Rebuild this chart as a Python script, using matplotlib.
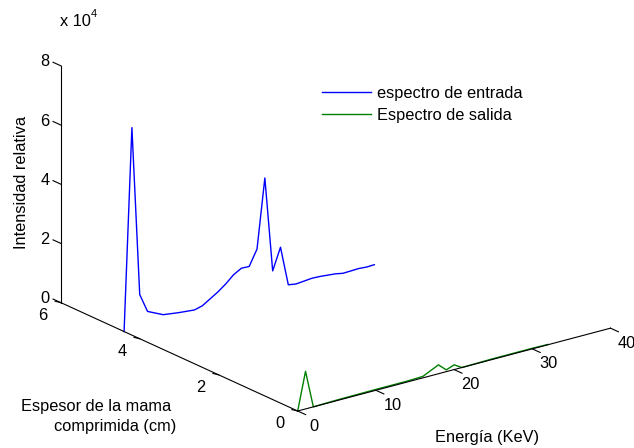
import numpy as np
import matplotlib
matplotlib.use('Agg')
import matplotlib.pyplot as plt
from matplotlib.lines import Line2D
from mpl_toolkits.mplot3d import proj3d

plt.rcParams['font.family'] = ['Liberation Sans', 'DejaVu Sans']

# ---------------- data ----------------
# input spectrum (blue), drawn at thickness 4.4 cm
energia_entrada = [0, 1, 2, 3, 5, 7, 9, 10, 12, 13, 14, 15, 16, 17, 18, 19, 20,
                   21, 22, 24, 25, 27, 28, 30, 31, 32]
intensidad_entrada = [0, 6.82, 1.11, 0.47, 0.22, 0.15, 0.10, 0.17, 0.50, 0.70,
                      0.94, 1.09, 1.08, 1.60, 3.93, 0.72, 1.45, 0.11, 0.07,
                      0.12, 0.11, 0.06, 0.01, 0.03, 0.01, 0.02]  # x 1e4
espesor_entrada = 4.4

# output spectrum (green), drawn at thickness 0 cm
energia_salida = [0, 1, 2, 5, 10, 14, 16, 18, 19, 20, 21, 25, 30, 32]
intensidad_salida = [0, 1.27, 0.0, 0.02, 0.03, 0.03, 0.05, 0.30, 0.06, 0.16,
                     0.0, 0.02, 0.02, 0.01]  # x 1e4
espesor_salida = 0.0

ticks_energia = [0, 10, 20, 30, 40]
ticks_espesor = [0, 2, 4, 6]
ticks_intensidad = [0, 2, 4, 6, 8]
escala = 1e4

series_labels = ['espectro de entrada', 'Espectro de salida']
colors = ['#0000ff', '#008000']

# ---------------- figure ----------------
W, H = 634, 448
fig = plt.figure(figsize=(W / 100, H / 100), dpi=100)
ax = fig.add_axes([0, 0, 1, 1], projection='3d', proj_type='ortho')
ax.set_xlim(0, 40)
ax.set_ylim(0, 6)
ax.set_zlim(0, 8 * escala)
ax.view_init(elev=20.37, azim=-127.26)
aspect = (392.9, 390.9, 252.5)
ax.set_box_aspect(aspect, zoom=1.0)
ax.set_axis_off()


def px(x, y, z):
    X, Y, _ = proj3d.proj_transform(x, y, z, ax.get_proj())
    return np.array(ax.transData.transform((X, Y)))


# fit scale and position of the projected box to the reference layout
t0 = np.array([297.7, H - 411.0])
t1 = np.array([610.4, H - 327.7])
fig.canvas.draw()
p0, p1 = px(0, 0, 0), px(40, 0, 0)
s = np.linalg.norm(t1 - t0) / np.linalg.norm(p1 - p0)
ax.set_box_aspect(aspect, zoom=s)
fig.canvas.draw()
p0 = px(0, 0, 0)
d = t0 - p0
pos = ax.get_position(original=True)
ax.set_position([pos.x0 + d[0] / W, pos.y0 + d[1] / H, pos.width, pos.height])
fig.canvas.draw()

# ---------------- curves ----------------
ax.plot(energia_entrada, [espesor_entrada] * len(energia_entrada),
        np.array(intensidad_entrada) * escala, color=colors[0], lw=1.0,
        clip_on=False)
ax.plot(energia_salida, [espesor_salida] * len(energia_salida),
        np.array(intensidad_salida) * escala, color=colors[1], lw=1.0,
        clip_on=False)

# ---------------- axes lines and ticks ----------------
k = dict(color='black', lw=0.8, clip_on=False)
ax.plot([0, 40], [0, 0], [0, 0], **k)
ax.plot([0, 0], [0, 6], [0, 0], **k)
ax.plot([0, 0], [6, 6], [0, 8 * escala], **k)
for e in ticks_energia:
    ax.plot([e, e], [0, -0.2], [0, 0], **k)
for t in ticks_espesor:
    ax.plot([0, -0.75], [t, t], [0, 0.1 * escala], **k)
for zt in ticks_intensidad:
    ax.plot([0, 0], [6, 6.2], [zt * escala, zt * escala], **k)

fs = 11.8


def ftext(xp, yp_top, s, size=fs, **kw):
    fig.text(xp / W, 1 - yp_top / H, s, fontsize=size, **kw)


for e in ticks_energia:
    p = px(e, 0, 0)
    fig.text((p[0] + 16.5) / W, (p[1] - 15) / H, str(e), fontsize=fs,
             ha='center', va='center')
for t in ticks_espesor:
    p = px(0, t, 0)
    fig.text((p[0] - 18) / W, (p[1] - 12.6) / H, str(t), fontsize=fs,
             ha='center', va='center')
for zt in ticks_intensidad:
    p = px(0, 6, zt * escala)
    fig.text((p[0] - 16) / W, (p[1] + 4) / H, str(zt), fontsize=fs,
             ha='center', va='center')

ftext(60, 22, 'x 10', ha='left', va='center')
ftext(91, 14, '4', size=8, ha='left', va='center')
ftext(21.7, 182.7, 'Intensidad relativa', rotation=90, ha='center', va='center')
ftext(96.2, 406, 'Espesor de la mama', ha='center', va='center')
ftext(115, 426.7, 'comprimida (cm)', ha='center', va='center')
ftext(486.7, 437.3, 'Energía (KeV)', ha='center', va='center')

handles = [Line2D([], [], color=c, lw=1.0) for c in colors]
fig.legend(handles, series_labels, loc='upper left',
           bbox_to_anchor=(321.7 / W, 1 - 86 / H), frameon=False,
           fontsize=fs, handlelength=3.0, handletextpad=0.35,
           labelspacing=0.4, borderpad=0, borderaxespad=0)

fig.savefig('out.png', dpi=100)
